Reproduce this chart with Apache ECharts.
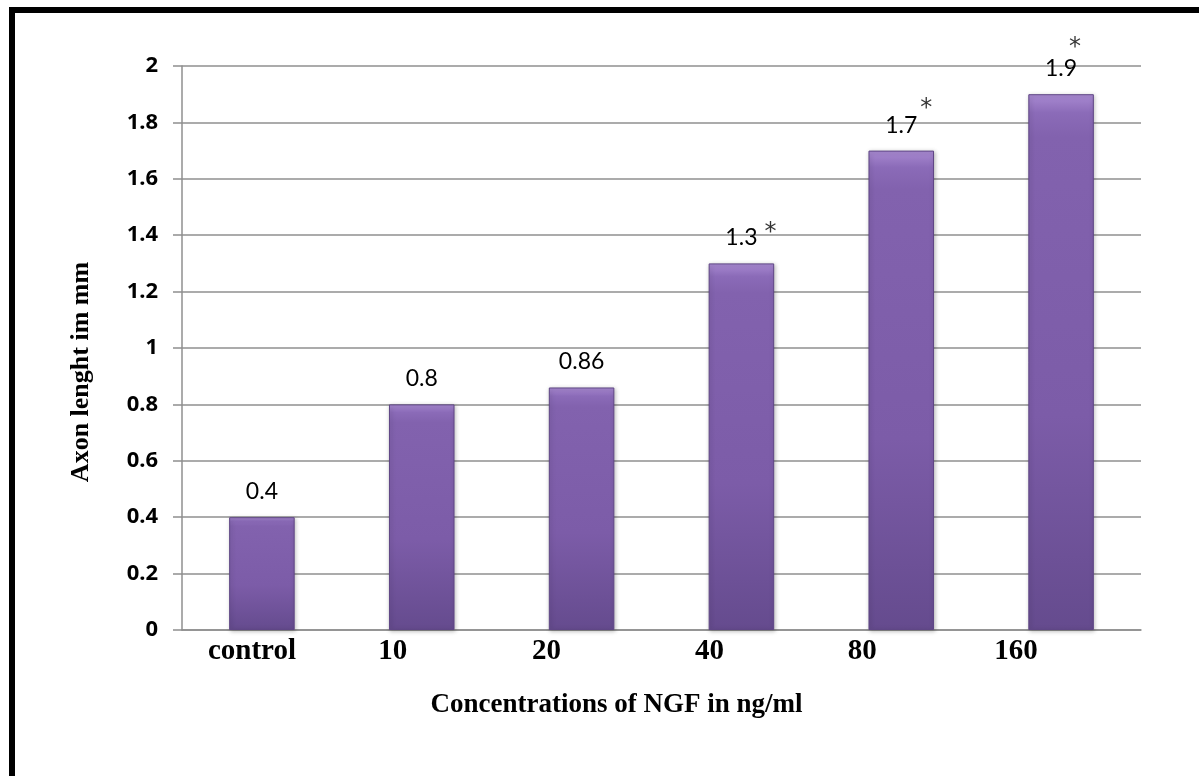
<!DOCTYPE html>
<html>
<head>
<meta charset="utf-8">
<script src="https://cdn.jsdelivr.net/npm/echarts@6/dist/echarts.min.js"></script>
<style>
  html, body { margin: 0; padding: 0; background: #ffffff; overflow: hidden; }
  #chart { position: absolute; left: 0; top: 0; width: 1199px; height: 776px; }
  #frame { position: absolute; left: 9px; top: 7px; width: 1400px; height: 1000px;
           border-top: 6px solid #000; border-left: 6px solid #000; pointer-events: none; }
</style>
</head>
<body>
<div id="chart"></div>
<div id="frame"></div>
<script>
// ---- data ----
const categories = ['control', '10', '20', '40', '80', '160'];
const axonLength = [0.4, 0.8, 0.86, 1.3, 1.7, 1.9];
const significance = ['', '', '', '*', '*', '*'];
const yTicks = { min: 0, max: 2, interval: 0.2 };
const xAxisTitle = 'Concentrations of NGF in ng/ml';
const yAxisTitle = 'Axon lenght im mm';

// ---- layout helpers (not data) ----
const labelNudge = [-10, -29, -35, -32, -39, -45];
const starOffsets = [[0, 0], [0, 0], [0, 0], [29, -31], [25, -42], [14, -46]];

const chart = echarts.init(document.getElementById('chart'), null, { renderer: 'canvas' });

const catData = categories.map((c, i) => ({
  value: c,
  textStyle: { padding: [0, -2 * labelNudge[i], 0, 0] }
}));

const starData = [];
significance.forEach((s, i) => {
  if (s) {
    starData.push({
      value: [i, axonLength[i]],
      label: { formatter: s, offset: starOffsets[i] }
    });
  }
});

const barFill = new echarts.graphic.LinearGradient(0, 0, 0, 1, [
  { offset: 0, color: '#a98ad2' },
  { offset: 0.035, color: '#8b6bb8' },
  { offset: 0.08, color: '#8262ae' },
  { offset: 0.6, color: '#7c5ca8' },
  { offset: 1, color: '#654b8e' }
]);

chart.setOption({
  backgroundColor: '#ffffff',
  animation: false,
  grid: { left: 182, right: 58, top: 66, bottom: 146, containLabel: false },
  xAxis: {
    type: 'category',
    data: catData,
    axisLine: { show: true, lineStyle: { color: '#8f8f8f', width: 1.5 } },
    axisTick: { show: false },
    axisLabel: {
      margin: 7,
      fontFamily: 'Liberation Serif',
      fontWeight: 'bold',
      fontSize: 29,
      color: '#000'
    },
    name: xAxisTitle,
    nameLocation: 'middle',
    nameGap: 62,
    nameTextStyle: {
      fontFamily: 'Liberation Serif',
      fontWeight: 'bold',
      fontSize: 27,
      color: '#000',
      padding: [0, 90, 0, 0]
    }
  },
  yAxis: {
    type: 'value',
    min: yTicks.min,
    max: yTicks.max,
    interval: yTicks.interval,
    axisLine: { show: true, lineStyle: { color: '#8f8f8f', width: 1.5 } },
    axisTick: { show: true, inside: false, length: 9, lineStyle: { color: '#8f8f8f', width: 1.5 } },
    splitLine: { show: true, lineStyle: { color: '#8f8f8f', width: 1.5 } },
    axisLabel: {
      margin: 24,
      fontFamily: 'Noto Sans',
      fontWeight: 'bold',
      fontSize: 22,
      color: '#000'
    },
    name: yAxisTitle,
    nameLocation: 'middle',
    nameGap: 88,
    nameTextStyle: {
      fontFamily: 'Liberation Serif',
      fontWeight: 'bold',
      fontSize: 26,
      color: '#000',
      padding: [0, 48, 0, 0]
    }
  },
  series: [
    {
      type: 'bar',
      data: axonLength,
      barWidth: '41%',
      itemStyle: {
        color: barFill,
        borderColor: '#5f4685',
        borderWidth: 1,
        shadowColor: 'rgba(0,0,0,0.25)',
        shadowBlur: 4,
        shadowOffsetX: 1,
        shadowOffsetY: 1
      },
      label: {
        show: true,
        position: 'top',
        distance: 14,
        fontFamily: 'Lato',
        fontSize: 23,
        color: '#000'
      },
      z: 2
    },
    {
      type: 'scatter',
      data: starData,
      symbolSize: 0,
      silent: true,
      label: {
        show: true,
        position: 'inside',
        fontFamily: 'DejaVu Sans',
        fontSize: 24,
        color: '#000'
      },
      z: 3
    }
  ]
});
</script>
</body>
</html>
